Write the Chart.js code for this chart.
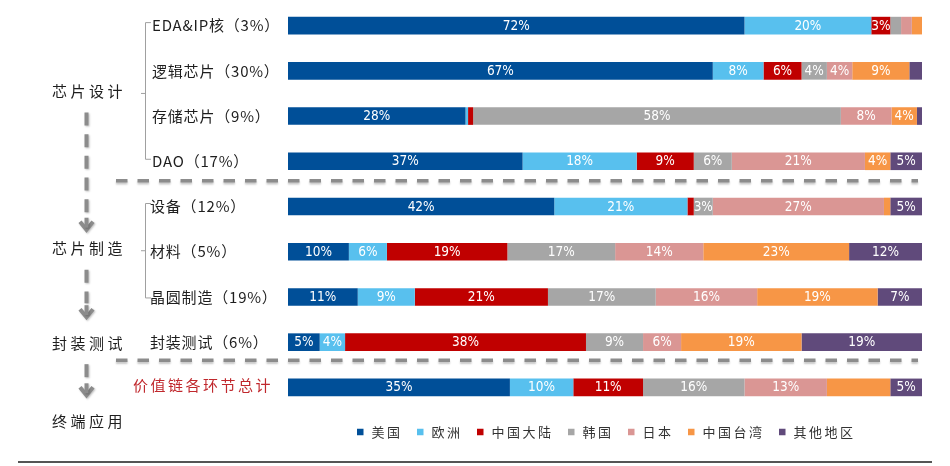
<!DOCTYPE html>
<html>
<head>
<meta charset="utf-8">
<script src="https://cdn.jsdelivr.net/npm/chart.js@4.4.1/dist/chart.umd.min.js"></script>
<style>
html,body{margin:0;padding:0;background:#fff;}
#wrap{width:950px;height:466px;position:relative;}
</style>
</head>
<body>
<div id="wrap"><canvas id="c" width="950" height="466"></canvas></div>
<script>
// ---- data ----
const categories = ['EDA&IP核（3%）','逻辑芯片（30%）','存储芯片（9%）','DAO（17%）','设备（12%）','材料（5%）','晶圆制造（19%）','封装测试（6%）','价值链各环节总计'];
const seriesNames = ['美国','欧洲','中国大陆','韩国','日本','中国台湾','其他地区'];
const usa    = [72, 67, 28,  37, 42, 9.6, 11,  5, 35];
const europe = [20,  8, 0.4, 18, 21, 6,    9,  4, 10];
const china  = [ 3,  6, 0.8,  9,  1, 19,  21, 38, 11];
const korea  = [1.7, 4, 58,   6,  3, 17,  17,  9, 16];
const japan  = [1.7, 4,  8,  21, 27, 13.9,16,  6, 13];
const taiwan = [1.6, 9,  4,   4,  1, 23,  19, 19, 10];
const others = [ 0,  2, 0.8,  5,  5, 11.5, 7, 19,  5];
const stageNames = ['芯片设计','芯片制造','封装测试','终端应用'];
const hiddenLabels = [[8,5]]; // [row, series] labels not shown in the original
// ---- styling ----
const colors = ['#004F98','#58C0EE','#C00000','#A6A6A6','#DA9694','#F79646','#604A7B'];
const seriesData = [usa, europe, china, korea, japan, taiwan, others];

const CJK = '"Noto Sans CJK SC","Noto Sans",sans-serif';
const NUM = '"Liberation Sans Narrow","DejaVu Sans Condensed","Liberation Sans",sans-serif';

function dashedV(ctx, x, y1, y2){
  ctx.save();
  ctx.strokeStyle='#8c8c8c'; ctx.lineWidth=4; ctx.setLineDash([13,8.7]);
  ctx.shadowColor='rgba(0,0,0,0.25)'; ctx.shadowBlur=2; ctx.shadowOffsetX=1; ctx.shadowOffsetY=1;
  ctx.beginPath(); ctx.moveTo(x,y1); ctx.lineTo(x,y2); ctx.stroke();
  ctx.restore();
}
function chevron(ctx, x, tip){
  ctx.save();
  ctx.strokeStyle='#8c8c8c'; ctx.lineWidth=4; ctx.lineCap='butt'; ctx.lineJoin='miter';
  ctx.shadowColor='rgba(0,0,0,0.25)'; ctx.shadowBlur=2; ctx.shadowOffsetX=1; ctx.shadowOffsetY=1;
  ctx.beginPath(); ctx.moveTo(x-6.5,tip-10); ctx.lineTo(x,tip-2); ctx.lineTo(x+6.5,tip-10); ctx.stroke();
  ctx.beginPath(); ctx.moveTo(x,tip-14); ctx.lineTo(x,tip-4); ctx.stroke();
  ctx.restore();
}
function dashedH(ctx, x1, x2, y){
  ctx.save();
  ctx.strokeStyle='#8c8c8c'; ctx.lineWidth=3.5; ctx.setLineDash([11.5,10]);
  ctx.shadowColor='rgba(0,0,0,0.22)'; ctx.shadowBlur=2; ctx.shadowOffsetY=2;
  ctx.beginPath(); ctx.moveTo(x1,y); ctx.lineTo(x2,y); ctx.stroke();
  ctx.restore();
}

const decor = {
  id:'decor',
  afterDatasetsDraw(chart){
    const ctx = chart.ctx;
    ctx.save();
    ctx.font = '13.5px '+NUM;
    ctx.fillStyle = '#fff';
    ctx.textAlign='center'; ctx.textBaseline='middle';
    chart.data.datasets.forEach((ds, di)=>{
      const meta = chart.getDatasetMeta(di);
      meta.data.forEach((el, i)=>{
        const v = ds.data[i];
        if (v < 2.5) return;
        if (hiddenLabels.some(h=>h[0]===i && h[1]===di)) return;
        ctx.fillText(Math.round(v)+'%', (el.x+el.base)/2, el.y+0.5);
      });
    });
    ctx.restore();
  },
  afterDraw(chart){
    const ctx = chart.ctx, ys = chart.scales.y, ca = chart.chartArea;
    const step = ys.getPixelForValue(1) - ys.getPixelForValue(0);
    const yr = i => ys.getPixelForValue(i);
    ctx.save();
    // row labels
    ctx.textBaseline='middle';
    categories.forEach((c,i)=>{
      if (i === categories.length-1){
        ctx.font='15px '+CJK; ctx.letterSpacing='2.5px'; ctx.fillStyle='#C0282D'; ctx.textAlign='left';
        ctx.fillText(c, 133, yr(i)-2);
      } else {
        ctx.font='15px '+CJK; ctx.letterSpacing='0.8px'; ctx.fillStyle='#1e1e1e'; ctx.textAlign='left';
        ctx.fillText(c, i>=4 ? 150 : 152, yr(i));
      }
    });
    // stage labels
    const stageY = [(yr(0)+yr(3))/2 - 2, (yr(4)+yr(6))/2 - 3, yr(7)+1, yr(8)+step*0.75];
    ctx.font='15px '+CJK; ctx.letterSpacing='3.5px'; ctx.fillStyle='#1e1e1e'; ctx.textAlign='left';
    stageNames.forEach((s,i)=>{ ctx.fillText(s, 52, stageY[i]); });
    ctx.letterSpacing='0px';
    // brackets
    ctx.strokeStyle='#a0a0a0'; ctx.lineWidth=1;
    const bracket = (a,b,mid)=>{
      ctx.beginPath();
      ctx.moveTo(151, a); ctx.lineTo(145.5, a); ctx.lineTo(145.5, b); ctx.lineTo(151, b);
      ctx.moveTo(141, mid); ctx.lineTo(145.5, mid);
      ctx.stroke();
    };
    bracket(yr(0)-3, yr(3)-2, stageY[0]+2);
    bracket(yr(4)-3, yr(6)+1, stageY[1]+2);
    // vertical dashed arrows
    const ax = 86.5;
    for (let k=0;k<3;k++){
      const a = stageY[k] + 21, tip = stageY[k+1] - (k===0?17:24);
      dashedV(ctx, ax, a, tip-16);
      chevron(ctx, ax, tip);
    }
    // horizontal separators
    dashedH(ctx, 116, 918, yr(3)+step*0.43);
    dashedH(ctx, 116, 918, yr(7)+step*0.4);
    // legend
    const ls = 2.5;
    ctx.font='13px '+CJK; ctx.letterSpacing=ls+'px'; ctx.textAlign='left'; ctx.textBaseline='middle';
    const box=6.5, gapBT=8, gapItem=17;
    const widths = chart.data.datasets.map(d=>ctx.measureText(d.label).width - ls);
    const total = widths.reduce((s,w)=>s+box+gapBT+w,0) + gapItem*(widths.length-1);
    let lx = (ca.left+ca.right)/2 - total/2;
    const ly = 432;
    chart.data.datasets.forEach((d,i)=>{
      ctx.fillStyle = d.backgroundColor;
      ctx.fillRect(lx, ly-box/2, box, box);
      ctx.fillStyle = '#333';
      ctx.fillText(d.label, lx+box+gapBT, ly+0.5);
      lx += box+gapBT+widths[i]+gapItem;
    });
    ctx.letterSpacing='0px';
    // bottom rule
    ctx.strokeStyle='#555'; ctx.lineWidth=2;
    ctx.beginPath(); ctx.moveTo(18,462); ctx.lineTo(932,462); ctx.stroke();
    ctx.restore();
  }
};

new Chart(document.getElementById('c'), {
  type:'bar',
  data:{
    labels: categories,
    datasets: seriesNames.map((n,i)=>({
      label:n, data:seriesData[i], backgroundColor:colors[i],
      borderWidth:0, barPercentage:0.39, categoryPercentage:1
    }))
  },
  options:{
    indexAxis:'y',
    responsive:false,
    animation:false,
    layout:{padding:{left:288, right:28, top:3, bottom:56}},
    scales:{
      x:{stacked:true, min:0, max:100, display:false},
      y:{stacked:true, display:false}
    },
    plugins:{legend:{display:false}, tooltip:{enabled:false}}
  },
  plugins:[decor]
});
</script>
</body>
</html>
